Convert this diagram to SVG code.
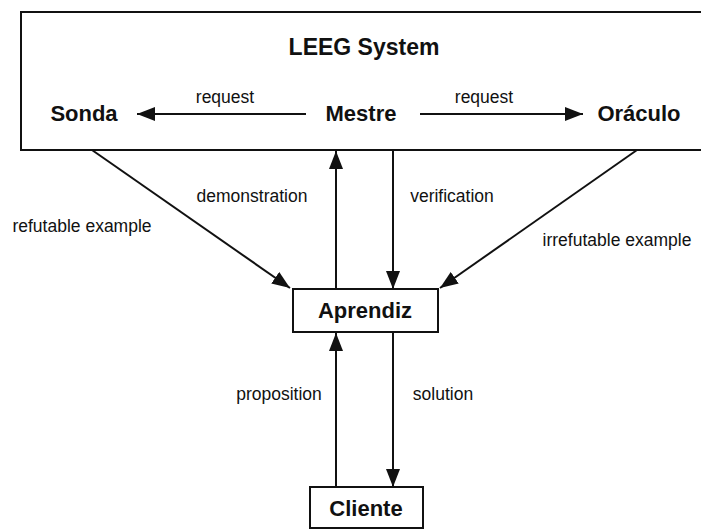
<svg xmlns="http://www.w3.org/2000/svg" width="701" height="531" viewBox="0 0 701 531">
<style>
.box{fill:#fff;stroke:#111;stroke-width:2}
.node{font-family:"Liberation Sans",Arial,sans-serif;font-weight:bold;font-size:22px;fill:#111;text-anchor:middle}
.title{font-size:23px}
.lbl{font-family:"Liberation Sans",Arial,sans-serif;font-size:17.5px;fill:#111;text-anchor:middle}
.edge{stroke:#111;stroke-width:2;fill:none;marker-end:url(#ah)}
</style>
<defs>
<marker id="ah" viewBox="0 0 18 14" refX="18" refY="7" markerWidth="18" markerHeight="14" markerUnits="userSpaceOnUse" orient="auto">
<path d="M0,0 L18,7 L0,14 Z" fill="#111"/>
</marker>
</defs>
<rect width="701" height="531" fill="#fff"/>
<g id="leeg">
<rect class="box" x="21" y="12" width="690" height="138"/>
<text class="node title" x="364" y="55">LEEG System</text>
</g>
<g id="sonda"><text class="node" x="84" y="121">Sonda</text></g>
<g id="mestre"><text class="node" x="361" y="121">Mestre</text></g>
<g id="oraculo"><text class="node" x="639" y="121">Oráculo</text></g>
<g id="aprendiz">
<rect class="box" x="293" y="289" width="145" height="43"/>
<text class="node" x="365" y="318">Aprendiz</text>
</g>
<g id="cliente">
<rect class="box" x="310" y="487" width="113" height="41"/>
<text class="node" x="366" y="516">Cliente</text>
</g>
<g id="connectors">
<line class="edge" x1="306" y1="114" x2="137" y2="114"/>
<line class="edge" x1="420" y1="114" x2="583" y2="114"/>
<line class="edge" x1="92" y1="150" x2="290" y2="288"/>
<line class="edge" x1="637" y1="150" x2="440" y2="288"/>
<line class="edge" x1="336" y1="289" x2="336" y2="151"/>
<line class="edge" x1="393" y1="151" x2="393" y2="289"/>
<line class="edge" x1="336" y1="487" x2="336" y2="333"/>
<line class="edge" x1="393" y1="333" x2="393" y2="487"/>
<text class="lbl" x="225" y="103">request</text>
<text class="lbl" x="484" y="103">request</text>
<text class="lbl" x="252" y="202">demonstration</text>
<text class="lbl" x="452" y="202">verification</text>
<text class="lbl" x="82" y="232">refutable example</text>
<text class="lbl" x="617" y="246">irrefutable example</text>
<text class="lbl" x="279" y="400">proposition</text>
<text class="lbl" x="443" y="400">solution</text>
</g>
</svg>
